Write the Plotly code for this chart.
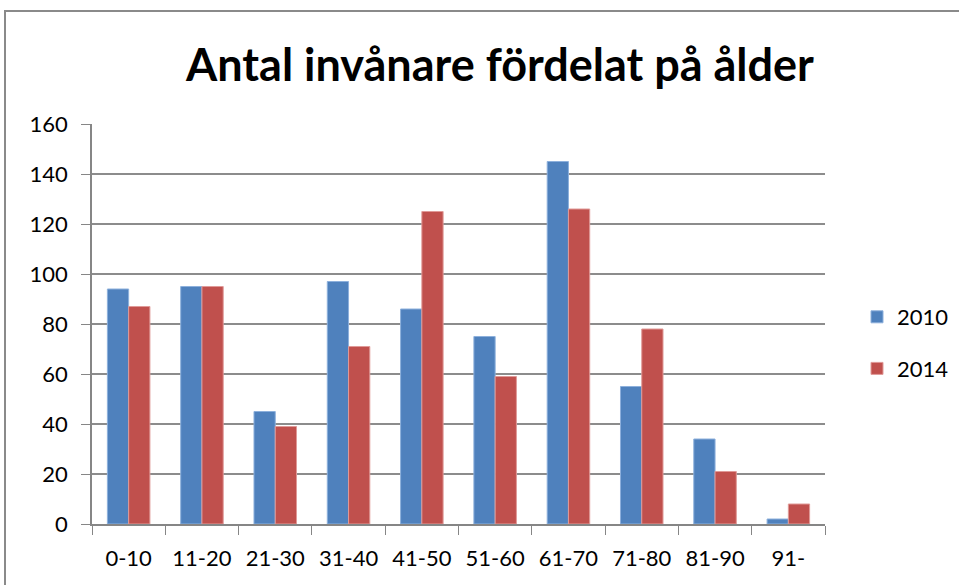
import plotly.graph_objects as go

categories = ["0-10", "11-20", "21-30", "31-40", "41-50", "51-60", "61-70", "71-80", "81-90", "91-"]
values_2010 = [94, 95, 45, 97, 86, 75, 145, 55, 34, 2]
values_2014 = [87, 95, 39, 71, 125, 59, 126, 78, 21, 8]
title_text = "Antal invånare fördelat på ålder"

W, H = 959, 585
L, R, T, B = 92, 134, 124, 61
pw, ph = W - L - R, H - T - B

def px_to_paper_x(px):
    return (px - L) / pw

def px_to_paper_y(py):
    return (H - B - py) / ph

FONT = "Lato"

fig = go.Figure()
fig.add_bar(x=categories, y=values_2010, name="2010", legendgroup="g2010",
            marker=dict(color="#4F81BD", line=dict(color="#8DB0DC", width=1)))
fig.add_bar(x=categories, y=values_2014, name="2014", legendgroup="g2014",
            marker=dict(color="#C0504D", line=dict(color="#E09A98", width=1)))

fig.update_layout(
    width=W, height=H,
    margin=dict(l=L, r=R, t=T, b=B, autoexpand=False),
    paper_bgcolor="white", plot_bgcolor="white",
    barmode="group", bargap=0.42, bargroupgap=0,
    font=dict(family=FONT, color="#000000", size=22),
    title=dict(text="<b>" + title_text + "</b>", x=px_to_paper_x(500), xref="paper", xanchor="center",
               y=1 - 65 / H, yanchor="middle", font=dict(family=FONT, size=45, color="#000")),
    legend=dict(x=px_to_paper_x(857), y=px_to_paper_y(343), xanchor="left", yanchor="middle",
                font=dict(size=22), itemwidth=30, tracegroupgap=20, bgcolor="rgba(0,0,0,0)"),
    showlegend=True,
)
fig.update_xaxes(showline=True, linecolor="#868686", linewidth=1.5,
                 ticks="outside", ticklen=9, tickcolor="#868686", tickson="boundaries",
                 showgrid=False, tickfont=dict(size=22), ticklabelstandoff=14, fixedrange=True)
fig.update_yaxes(range=[0, 160], dtick=20, showline=True, linecolor="#868686", linewidth=1.5,
                 ticks="outside", ticklen=9, tickcolor="#868686",
                 showgrid=True, gridcolor="#8c8c8c", gridwidth=1.5, zeroline=False,
                 tickfont=dict(size=22), ticklabelstandoff=9)

fig.add_shape(type="rect", xref="paper", yref="paper",
              x0=px_to_paper_x(5), x1=px_to_paper_x(990), y0=px_to_paper_y(620), y1=px_to_paper_y(11),
              line=dict(color="#8a8a8a", width=2), fillcolor="rgba(0,0,0,0)", layer="below")

fig.write_html("out.html", config={"displayModeBar": False},
               post_script="document.body.style.margin='0';document.body.style.overflow='hidden';")
